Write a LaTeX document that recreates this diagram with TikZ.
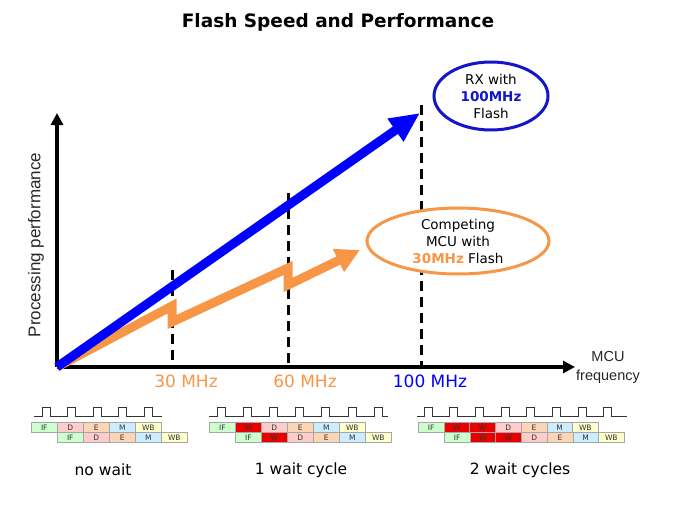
\documentclass[tikz,border=0pt]{standalone}
\usepackage{fontspec}
\setmainfont{DejaVu Sans}
\newfontfamily\arialfont{Liberation Sans}
\usetikzlibrary{arrows.meta,shapes.geometric}
\definecolor{rxblue}{RGB}{0,0,255}
\definecolor{ringblue}{RGB}{20,20,200}
\definecolor{mcuorange}{RGB}{247,150,70}
\definecolor{cIF}{RGB}{204,255,204}
\definecolor{cD}{RGB}{255,204,204}
\definecolor{cE}{RGB}{252,213,180}
\definecolor{cM}{RGB}{204,236,255}
\definecolor{cWB}{RGB}{255,255,204}
\definecolor{cW}{RGB}{235,0,0}
\tikzset{
  axis/.style={line width=4pt,-{Triangle[length=12pt,width=12pt]}},
  freqmark/.style={line width=3pt,dash pattern=on 10pt off 6pt},
  perf/.style={line width=9pt,draw=#1},
  freq/.style={font=\fontsize{17}{20}\selectfont},
  bubble/.style={ellipse,fill=white,line width=3pt,align=center,inner sep=0pt,font=\fontsize{13.5}{17}\selectfont},
  stage/.style={draw=gray!70,line width=0.6pt,anchor=north west,minimum width=26pt,minimum height=10pt,inner sep=0pt,text=black!80,font=\fontsize{7.5}{8}\selectfont},
  clock/.style={line width=1pt,black!80},
  caption/.style={font=\fontsize{15.5}{18}\selectfont}
}
\begin{document}
\begin{tikzpicture}[x=1pt,y=-1pt]
            \useasboundingbox (0,0) rectangle (675,506);
            \node[font=\bfseries\fontsize{18.5}{22}\selectfont] (title) at (338,22) {Flash Speed and Performance};
            % axes
            \coordinate (O) at (57,367);
            \coordinate (ytip) at (57,113);
            \coordinate (xtip) at (575,367);
            \draw[axis] (O) -- (ytip);
            \draw[axis] (O) -- (xtip);
            \node[rotate=90,text=black!85,font=\arialfont\fontsize{17}{20}\selectfont] (ylab) at (36,245) {Processing performance};
            \node[align=center,text=black!85,font=\arialfont\fontsize{14.5}{19}\selectfont] (xlab) at (608,367) {MCU\\frequency};
            % frequency marks
            \coordinate (d30) at (172,270);   \coordinate (b30) at (172,367);
            \coordinate (d60) at (288,193);   \coordinate (b60) at (288,367);
            \coordinate (d100) at (421,105);  \coordinate (b100) at (421,367);
            \draw[freqmark] (d30) -- (b30);
            \draw[freqmark] (d60) -- (b60);
            \draw[freqmark] (d100) -- (b100);
            \node[freq,text=mcuorange] (f30) at (186,381) {30 MHz};
            \node[freq,text=mcuorange] (f60) at (305,381) {60 MHz};
            \node[freq,text=rxblue] (f100) at (430,381) {100 MHz};
            % performance lines
            \coordinate (o1) at (172,306);  \coordinate (o2) at (172,322);
            \coordinate (o3) at (288,268);  \coordinate (o4) at (288,285);
            \coordinate (otip) at (360,250);
            \draw[perf=mcuorange,-{Triangle[length=24pt,width=24pt]}] (O) -- (o1) -- (o2) -- (o3) -- (o4) -- (otip);
            \coordinate (rxtip) at (420,113);
            \draw[perf=rxblue,-{Triangle[length=30pt,width=26pt]}] (O) -- (rxtip);
            % bubbles
            \node[bubble,draw=ringblue,minimum width=114pt,minimum height=68pt] (rx) at (491,96) {RX with\\\textcolor{ringblue}{\bfseries 100MHz}\\Flash};
            \node[bubble,draw=mcuorange,minimum width=182pt,minimum height=66pt] (mcu) at (458,241) {Competing\\MCU with\\\textcolor{mcuorange}{\bfseries 30MHz} Flash};
            % no wait
            \draw[clock] (34,416) \foreach \k in {0,...,4}{ -- ({42+25.6*\k},416) -- ++(0,-9) -- ++(8,0) -- ++(0,9)} -- (162,416);
            \foreach \lab/\col [count=\i from 0] in {IF/cIF,D/cD,E/cE,M/cM,WB/cWB}
              \node[stage,fill=\col] (nwa\i) at ({31+26*\i},422) {\lab};
            \foreach \lab/\col [count=\i from 0] in {IF/cIF,D/cD,E/cE,M/cM,WB/cWB}
              \node[stage,fill=\col] (nwb\i) at ({57+26*\i},432) {\lab};
            \node[caption] (nw) at (103,470) {no wait};
            % 1 wait cycle
            \draw[clock] (209,416) \foreach \k in {0,...,6}{ -- ({217+26.2*\k},416) -- ++(0,-9) -- ++(8,0) -- ++(0,9)} -- (388,416);
            \foreach \lab/\col [count=\i from 0] in {IF/cIF,W/cW,D/cD,E/cE,M/cM,WB/cWB}
              \node[stage,fill=\col] (owa\i) at ({209+26*\i},422) {\lab};
            \foreach \lab/\col [count=\i from 0] in {IF/cIF,W/cW,D/cD,E/cE,M/cM,WB/cWB}
              \node[stage,fill=\col] (owb\i) at ({235+26*\i},432) {\lab};
            \node[caption] (ow) at (301,470) {1 wait cycle};
            % 2 wait cycles
            \draw[clock] (417,416) \foreach \k in {0,...,7}{ -- ({424+25.7*\k},416) -- ++(0,-9) -- ++(8,0) -- ++(0,9)} -- (627,416);
            \foreach \lab/\col [count=\i from 0] in {IF/cIF,W/cW,W/cW,D/cD,E/cE,M/cM,WB/cWB}
              \node[stage,fill=\col,minimum width=25.7pt] (twa\i) at ({418+25.7*\i},422) {\lab};
            \foreach \lab/\col [count=\i from 0] in {IF/cIF,W/cW,W/cW,D/cD,E/cE,M/cM,WB/cWB}
              \node[stage,fill=\col,minimum width=25.7pt] (twb\i) at ({444+25.7*\i},432) {\lab};
            \node[caption] (tw) at (520,470) {2 wait cycles};
\end{tikzpicture}
\end{document}
